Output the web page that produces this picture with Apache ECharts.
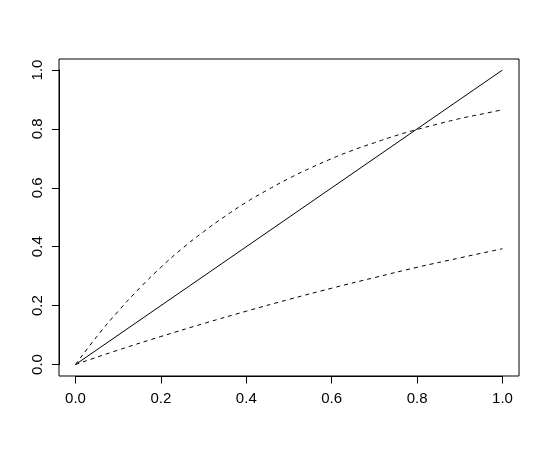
<!DOCTYPE html>
<html>
<head>
<meta charset="utf-8">
<script src="https://cdn.jsdelivr.net/npm/echarts@6/dist/echarts.min.js"></script>
<style>
  html, body { margin: 0; padding: 0; background: #fff; }
  #chart { width: 550px; height: 450px; }
</style>
</head>
<body>
<div id="chart"></div>
<script>
// values
const xFine = [0, 0.05, 0.1, 0.15, 0.2, 0.25, 0.3, 0.35, 0.4, 0.45, 0.5,
               0.55, 0.6, 0.65, 0.7, 0.75, 0.8, 0.85, 0.9, 0.95, 1.0]
const upperY = [0, 0.095, 0.181, 0.259, 0.330, 0.394, 0.451, 0.503, 0.551, 0.593, 0.632,
                0.667, 0.699, 0.728, 0.753, 0.777, 0.798, 0.817, 0.835, 0.850, 0.865]
const xCoarse = [0, 0.1, 0.2, 0.3, 0.4, 0.5, 0.6, 0.7, 0.8, 0.9, 1.0]
const lowerY = [0, 0.049, 0.095, 0.139, 0.181, 0.221, 0.259, 0.295, 0.330, 0.362, 0.393]
const diagX = [0, 1]
const diagY = [0, 1]
const tickLabels = ['0.0', '0.2', '0.4', '0.6', '0.8', '1.0']

const pairs = (xs, ys) => xs.map((x, i) => [x, ys[i]])
const fmt = v => tickLabels[Math.round(v * 5)]

const chart = echarts.init(document.getElementById('chart'))

const txt = { color: '#000', fontSize: 15, fontFamily: 'Liberation Sans, Arial, sans-serif' }

chart.setOption({
  animation: false,
  grid: [
    // data area (0..1)
    { left: 75.5, top: 70, width: 427, height: 294.5 },
    // plot box
    { left: 59, top: 59, width: 460, height: 317, show: true, borderColor: '#000', borderWidth: 1, backgroundColor: 'transparent' }
  ],
  xAxis: [
    {
      type: 'value', gridIndex: 0, min: 0, max: 1, interval: 0.2,
      offset: 12,
      splitLine: { show: false },
      axisLine: { show: true, onZero: false, lineStyle: { color: '#000', width: 1 } },
      axisTick: { show: true, length: 7, lineStyle: { color: '#000' } },
      axisLabel: Object.assign({ margin: 15, formatter: fmt }, txt)
    },
    { type: 'value', gridIndex: 1, min: 0, max: 1, show: false }
  ],
  yAxis: [
    {
      type: 'value', gridIndex: 0, min: 0, max: 1, interval: 0.2,
      offset: 16.5,
      splitLine: { show: false },
      axisLine: { show: true, onZero: false, lineStyle: { color: '#000', width: 1 } },
      axisTick: { show: true, length: 7, lineStyle: { color: '#000' } },
      axisLabel: Object.assign({ margin: 14, rotate: 90, formatter: fmt }, txt)
    },
    { type: 'value', gridIndex: 1, min: 0, max: 1, show: false }
  ],
  series: [
    {
      type: 'line', xAxisIndex: 0, yAxisIndex: 0,
      data: pairs(diagX, diagY), symbol: 'none',
      lineStyle: { color: '#000', width: 1 }
    },
    {
      type: 'line', xAxisIndex: 0, yAxisIndex: 0,
      data: pairs(xFine, upperY), symbol: 'none', smooth: true,
      lineStyle: { color: '#000', width: 1, type: [4, 4] }
    },
    {
      type: 'line', xAxisIndex: 0, yAxisIndex: 0,
      data: pairs(xCoarse, lowerY), symbol: 'none', smooth: true,
      lineStyle: { color: '#000', width: 1, type: [4, 4] }
    }
  ]
})
</script>
</body>
</html>
